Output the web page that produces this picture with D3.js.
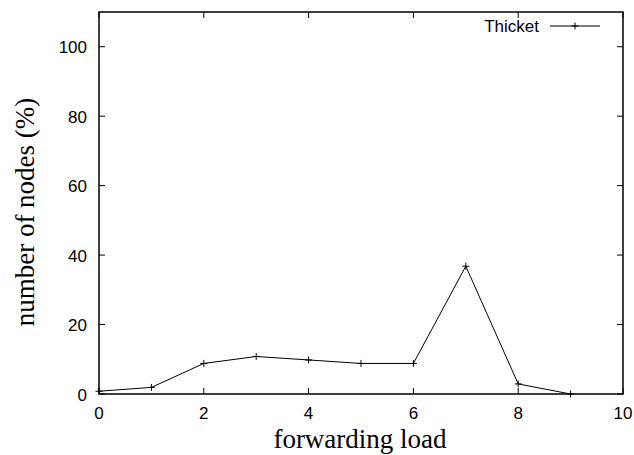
<!doctype html>
<html>
  <head>
    <meta charset="utf-8">
    <title>forwarding load</title>
    <script src="https://cdn.jsdelivr.net/npm/d3@7"></script>
    <style>
      body { margin: 0; background: #fff; }
      .tick-label { font-family: "Liberation Sans", Arial, sans-serif; font-size: 17px; fill: #000; }
      .axis-title { font-family: "Liberation Serif", "Times New Roman", serif; font-size: 27px; fill: #000; }
    </style>
  </head>
  <body>
    <svg id="chart" width="634" height="455"></svg>
<script>
// data
var load = [0, 1, 2, 3, 4, 5, 6, 7, 8, 9];
var thicket = [0.8, 1.9, 8.8, 10.8, 9.8, 8.8, 8.8, 36.8, 2.9, 0];
var xTicks = [0, 2, 4, 6, 8, 10];
var yTicks = [0, 20, 40, 60, 80, 100];

var margin = {top: 12, right: 11, bottom: 61, left: 99};
var W = 634, H = 455;
var w = W - margin.left - margin.right, h = H - margin.top - margin.bottom;

var svg = d3.select('#chart');
var g = svg.append('g').attr('transform', 'translate(' + margin.left + ',' + margin.top + ')');

var x = d3.scaleLinear().domain([0, 10]).range([0, w]);
var y = d3.scaleLinear().domain([0, 110]).range([h, 0]);

var tl = 6;
// inward ticks, mirrored on all sides (gnuplot style)
xTicks.forEach(function(t) {
  g.append('line').attr('x1', x(t)).attr('x2', x(t)).attr('y1', h).attr('y2', h - tl).attr('stroke', '#000');
  g.append('line').attr('x1', x(t)).attr('x2', x(t)).attr('y1', 0).attr('y2', tl).attr('stroke', '#000');
  g.append('text').attr('class', 'tick-label').attr('x', x(t)).attr('y', h + 25)
    .attr('text-anchor', 'middle').text(t);
});
yTicks.forEach(function(t) {
  g.append('line').attr('x1', 0).attr('x2', tl).attr('y1', y(t)).attr('y2', y(t)).attr('stroke', '#000');
  g.append('line').attr('x1', w).attr('x2', w - tl).attr('y1', y(t)).attr('y2', y(t)).attr('stroke', '#000');
  g.append('text').attr('class', 'tick-label').attr('x', -12).attr('y', y(t) + 6.5)
    .attr('text-anchor', 'end').text(t);
});

// frame
g.append('rect').attr('width', w).attr('height', h)
  .attr('fill', 'none').attr('stroke', '#000').attr('stroke-width', 1.5);

// series
var pts = load.map(function(d, i) { return [d, thicket[i]]; });
var line = d3.line().x(function(d) { return x(d[0]); }).y(function(d) { return y(d[1]); });
g.append('path').datum(pts).attr('d', line)
  .attr('fill', 'none').attr('stroke', '#000').attr('stroke-width', 1);

var m = 3.5;
function plus(sel, cx, cy) {
  sel.append('path').attr('d', 'M' + (cx - m) + ',' + cy + 'H' + (cx + m) + 'M' + cx + ',' + (cy - m) + 'V' + (cy + m))
    .attr('stroke', '#000').attr('stroke-width', 1);
}
pts.forEach(function(d) { plus(g, x(d[0]), y(d[1])); });

// legend
g.append('text').attr('class', 'tick-label').attr('x', 539 - margin.left).attr('y', 32 - margin.top)
  .attr('text-anchor', 'end').text('Thicket');
g.append('line').attr('x1', 550 - margin.left).attr('x2', 600 - margin.left)
  .attr('y1', 26 - margin.top).attr('y2', 26 - margin.top).attr('stroke', '#000');
plus(g, 575 - margin.left, 26 - margin.top);

// axis titles
svg.append('text').attr('class', 'axis-title').attr('x', 360).attr('y', 448)
  .attr('text-anchor', 'middle').text('forwarding load');
svg.append('text').attr('class', 'axis-title')
  .attr('transform', 'translate(34,212) rotate(-90)')
  .attr('text-anchor', 'middle').text('number of nodes (%)');
</script>
  </body>
</html>
